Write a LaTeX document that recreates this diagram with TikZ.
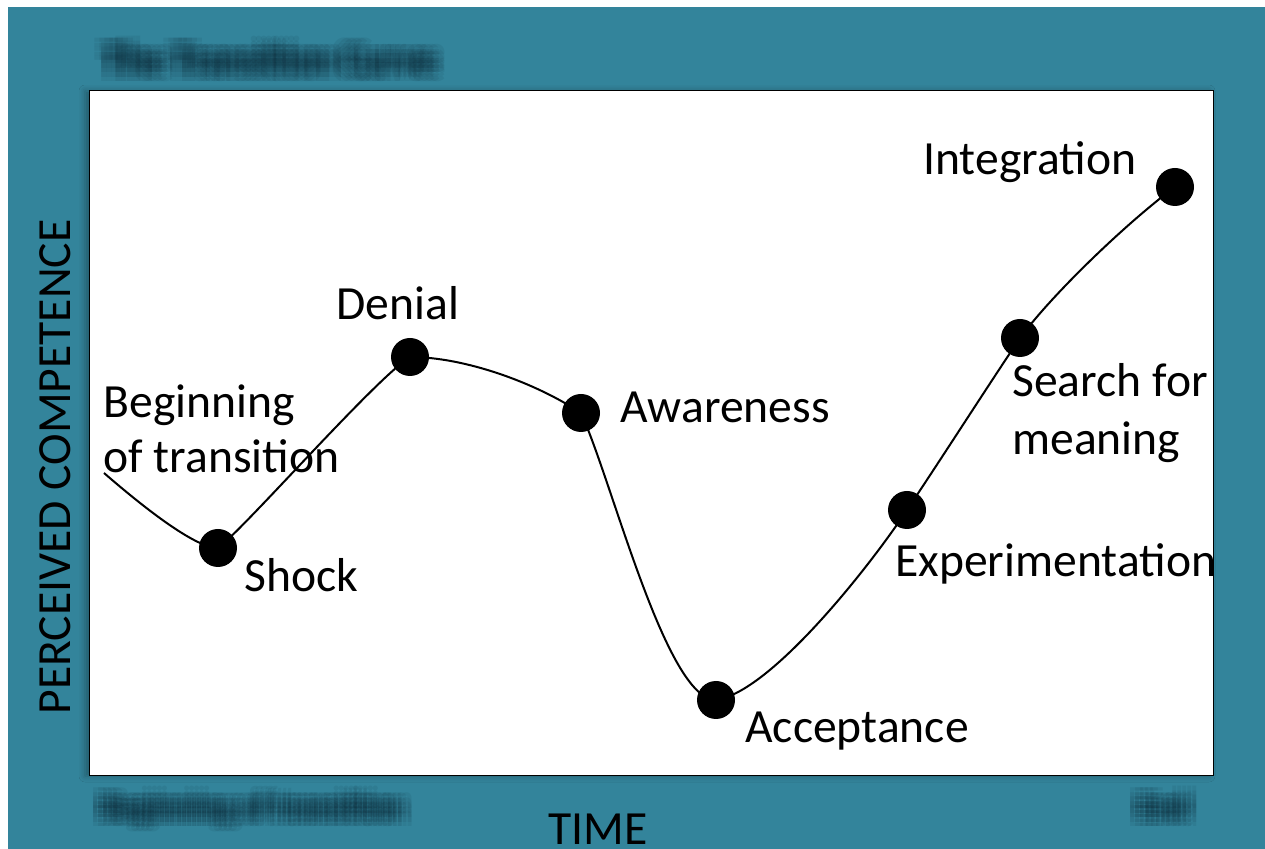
\documentclass[tikz,border=0pt]{standalone}
\usepackage{fontspec}
\setmainfont{Carlito}
\usetikzlibrary{shadows.blur}
\pgfdeclarelayer{back}
\pgfdeclarelayer{mid}
\pgfsetlayers{back,mid,main}
\definecolor{slide}{RGB}{51,132,155}
\definecolor{blurink}{RGB}{14,44,58}

% soft, out-of-focus caption: several faint copies of the same text
\newcommand\softcaption[5]{% x, baseline y, size (pt), name, text
  \foreach \dx in {-10,-5,0,5,10}{%
    \foreach \dy in {-9,-4.5,0,4.5,9}{%
      \node[anchor=base west,inner sep=0pt,text=blurink,text opacity=0.09,
            font=\fontsize{#3}{#3}\selectfont\bfseries]
        (#4-\dx-\dy) at ({#1+\dx},{#2+\dy}) {#5};}}}

\begin{document}
\begin{tikzpicture}[x=0.5pt,y=-0.5pt,
  dot/.style={circle,fill=black,inner sep=0pt,minimum size=19pt},
  lbl/.style={anchor=base west,inner sep=0pt,font=\fontsize{23.8}{28}\selectfont},
  axis/.style={inner sep=0pt,font=\fontsize{23.8}{28}\selectfont},
  curve/.style={line width=1pt,line join=round}]
\useasboundingbox (0,0) rectangle (1265,849);

% slide background
\begin{pgfonlayer}{back}
\fill[white] (0,0) rectangle (1265,849);
\fill[slide] (8,7) rectangle (1265,849);
\draw[fill=white,line width=0.5pt,
      blur shadow={shadow xshift=-2pt,shadow yshift=0pt,shadow blur radius=3pt,shadow opacity=30}]
  (89,91) rectangle (1213,776);
\end{pgfonlayer}

% blurred slide captions
\softcaption{104}{73}{19.5}{title}{The Transition Curve}
\softcaption{101}{818}{16}{footl}{Beginning of transition}
\softcaption{1138}{818}{16}{footr}{End}

% axis titles
\node[axis,anchor=base,rotate=90] (ylab) at (70,467) {PERCEIVED COMPETENCE};
\node[axis,anchor=base] (xlab) at (598,845) {TIME};

% stages on the curve
\coordinate (start) at (104,473);
\node[dot] (shock)  at (218,548) {};
\node[dot] (denial) at (410,357) {};
\node[dot] (aware)  at (581,413) {};
\node[dot] (accept) at (716,700) {};
\node[dot] (exper)  at (907,510) {};
\node[dot] (search) at (1020,338) {};
\node[dot] (integ)  at (1175,187) {};

% the transition curve, drawn beneath the dots
\begin{pgfonlayer}{mid}
\draw[curve] (start)
  .. controls +(30,26) and +(-25,0) .. (shock.center)
  .. controls +(25,-18) and +(-35,22) .. (denial.center)
  .. controls +(55,0) and +(-45,-30) .. (aware.center)
  .. controls +(31,67) and +(-50,0) .. (accept.center)
  .. controls +(55,-8) and +(-37,56) .. (exper.center)
  .. controls +(38,-57) and +(-38,57) .. (search.center)
  .. controls +(34,-46) and +(-45,33) .. (integ.center);
\end{pgfonlayer}

% stage labels
\node[lbl] (lbeg1) at (103,418) {Beginning};
\node[lbl] (lbeg2) at (103,473) {of transition};
\node[lbl] (lshock) at (244,592) {Shock};
\node[lbl] (ldenial) at (336,320) {Denial};
\node[lbl] (laware) at (620,423) {Awareness};
\node[lbl] (laccept) at (745,743) {Acceptance};
\node[lbl] (lexper) at (895,577) {Experimentation};
\node[lbl] (lsearch1) at (1012,397) {Search for};
\node[lbl] (lsearch2) at (1012,455) {meaning};
\node[lbl] (linteg) at (923,175) {Integration};
\end{tikzpicture}
\end{document}
